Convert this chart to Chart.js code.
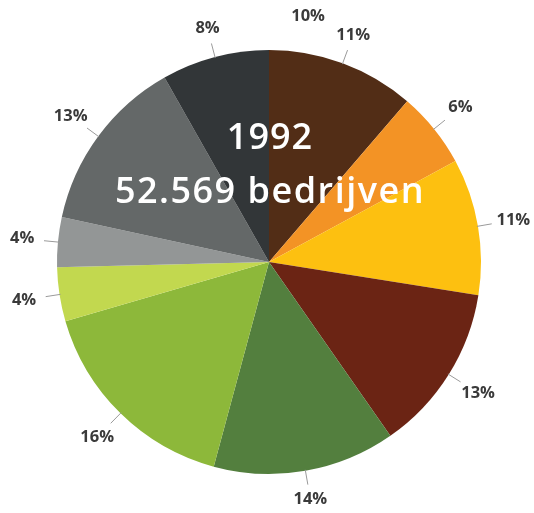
<!DOCTYPE html>
<html lang="nl">

<head>
    <meta charset="UTF-8">
    <title>Bedrijven 1992</title>
    <script src="https://cdn.jsdelivr.net/npm/chart.js"></script>
    <style>
        body { margin: 0; background: #fff; }
    </style>
</head>

<body>
    <canvas id="pie" width="534" height="513"></canvas>
    <script>
        // aandeel per sector (gemeten uit het plaatje), kloksgewijs vanaf boven
        const sectors = ['A', 'B', 'C', 'D', 'E', 'F', 'G', 'H', 'I', 'J'];
        const shares = [11.3, 5.8, 10.4, 12.8, 13.9, 16.3, 4.1, 3.8, 13.4, 8.2];
        const shareLabels = ['11%', '6%', '11%', '13%', '14%', '16%', '4%', '4%', '13%', '8%'];
        const colors = ['#522d16', '#f39325', '#fdc010', '#6b2414', '#537f3e',
                        '#8db83a', '#c2d84f', '#939696', '#646868', '#323638'];
        const titleLines = ['1992', '52.569 bedrijven'];
        const strayLabel = '10%';

        const labelPlugin = {
            id: 'labels',
            afterDatasetsDraw(chart) {
                const ctx = chart.ctx;
                const arcs = chart.getDatasetMeta(0).data;
                ctx.save();
                ctx.font = '700 16.5px "Open Sans"';
                ctx.textAlign = 'center';
                ctx.textBaseline = 'middle';
                arcs.forEach((arc, i) => {
                    const a = (arc.startAngle + arc.endAngle) / 2;
                    const cos = Math.cos(a), sin = Math.sin(a);
                    const r = arc.outerRadius;
                    ctx.strokeStyle = '#9a9a9a';
                    ctx.lineWidth = 1;
                    ctx.beginPath();
                    ctx.moveTo(arc.x + cos * (r - 1), arc.y + sin * (r - 1));
                    ctx.lineTo(arc.x + cos * (r + 14), arc.y + sin * (r + 14));
                    ctx.stroke();
                    const tr = r + 27 + 9 * Math.abs(cos);
                    ctx.fillStyle = '#3a3a3a';
                    ctx.fillText(shareLabels[i], arc.x + cos * tr, arc.y + sin * tr);
                });
                // losse label bovenaan
                const c = arcs[0];
                const sa = -Math.PI / 2 + 0.157;
                ctx.fillText(strayLabel, c.x + Math.cos(sa) * (c.outerRadius + 38), c.y + Math.sin(sa) * (c.outerRadius + 37));

                // titel in het midden
                ctx.fillStyle = '#ffffff';
                ctx.font = '600 36px "Open Sans"';
                ctx.textBaseline = 'alphabetic';
                ctx.letterSpacing = '1px';
                ctx.fillText(titleLines[0], c.x + 1, c.y - 113);
                ctx.letterSpacing = '1.5px';
                ctx.fillText(titleLines[1], c.x + 1, c.y - 59);
                ctx.restore();
            }
        };

        new Chart(document.getElementById('pie'), {
            type: 'pie',
            data: {
                labels: sectors,
                datasets: [{
                    data: shares,
                    backgroundColor: colors,
                    borderWidth: 0
                }]
            },
            options: {
                responsive: false,
                animation: false,
                events: [],
                layout: { padding: { left: 57, right: 53, top: 50, bottom: 39 } },
                plugins: {
                    legend: { display: false },
                    tooltip: { enabled: false }
                }
            },
            plugins: [labelPlugin]
        });
    </script>
</body>

</html>
